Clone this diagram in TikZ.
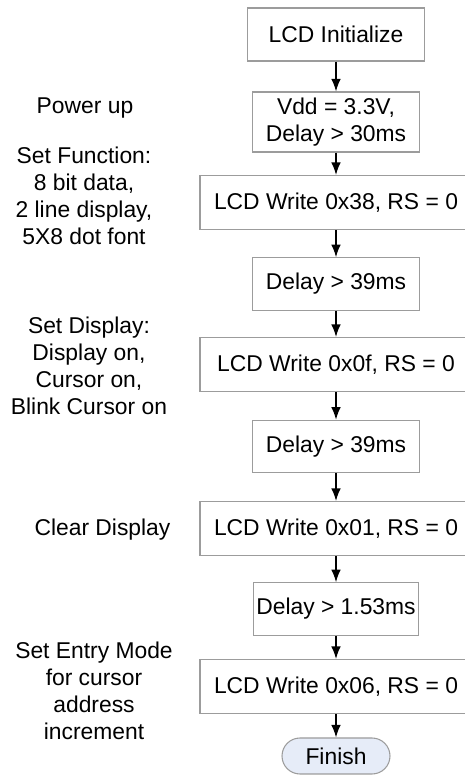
\documentclass[tikz,border=0pt]{standalone}
\usepackage{fontspec}
\setmainfont{Liberation Sans}
\usetikzlibrary{arrows.meta}
\definecolor{boxgray}{HTML}{9C9C9C}
\definecolor{finfill}{HTML}{E6ECF8}

\begin{document}
\begin{tikzpicture}[x=1cm,y=1cm,font=\fontsize{13}{15.4}\selectfont,
  stepbox/.style={draw=boxgray,line width=.6pt,inner sep=0pt,align=center},
  widebox/.style={stepbox,minimum width=5.44cm,minimum height=1.08cm},
  delaybox/.style={stepbox,minimum width=3.34cm,minimum height=1.05cm},
  note/.style={align=center,inner sep=0pt},
  flow/.style={line width=.75pt,-{Latex[length=2.5mm,width=1.9mm]}}]
\useasboundingbox (0,0) rectangle (9.3,15.5);
% steps
\node[stepbox,minimum width=3.54cm,minimum height=1.06cm] (init) at (6.72,14.81) {LCD Initialize};
\node[stepbox,minimum width=3.34cm,minimum height=1.20cm] (vdd) at (6.72,13.06) {Vdd = 3.3V,\\Delay > 30ms};
\node[widebox] (wr38) at (6.72,11.45) {LCD Write 0x38, RS = 0};
\node[delaybox] (dly1) at (6.72,9.82) {Delay > 39ms};
\node[widebox] (wr0f) at (6.72,8.21) {LCD Write 0x0f, RS = 0};
\node[delaybox] (dly2) at (6.72,6.57) {Delay > 39ms};
\node[widebox] (wr01) at (6.72,4.93) {LCD Write 0x01, RS = 0};
\node[delaybox,minimum width=3.30cm] (dly3) at (6.72,3.32) {Delay > 1.53ms};
\node[widebox] (wr06) at (6.72,1.77) {LCD Write 0x06, RS = 0};
\node[stepbox,fill=finfill,rounded corners=.36cm,minimum width=2.16cm,minimum height=.72cm] (fin) at (6.72,0.38) {Finish};
% arrows
\draw[flow] (init) -- (vdd);
\draw[flow] (vdd) -- (wr38);
\draw[flow] (wr38) -- (dly1);
\draw[flow] (dly1) -- (wr0f);
\draw[flow] (wr0f) -- (dly2);
\draw[flow] (dly2) -- (wr01);
\draw[flow] (wr01) -- (dly3);
\draw[flow] (dly3) -- (wr06);
\draw[flow] (wr06) -- (fin);
% notes
\node[note] (pwr) at (1.70,13.34) {Power up};
\node[note] (setfn) at (1.68,11.58) {Set Function:\\8 bit data,\\2 line display,\\5X8 dot font};
\node[note] (setdsp) at (1.78,8.18) {Set Display:\\Display on,\\Cursor on,\\Blink Cursor on};
\node[note] (clr) at (2.05,4.90) {Clear Display};
\node[note] (entry) at (1.88,1.68) {Set Entry Mode\\for cursor\\address\\increment};
\end{tikzpicture}
\end{document}
